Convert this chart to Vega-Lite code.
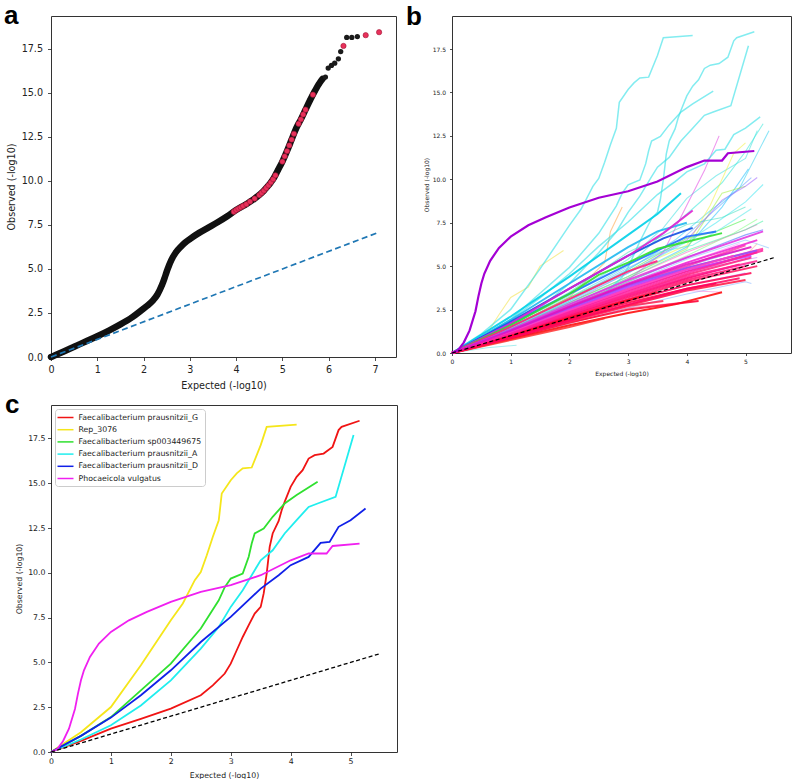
{
  "$schema": "https://vega.github.io/schema/vega-lite/v6.json",
  "padding": {"left": 3, "top": 2, "right": 4, "bottom": 0},
  "background": "white",
  "config": {
    "font": "DejaVu Sans",
    "view": {"stroke": "#333", "strokeWidth": 1},
    "axis": {"grid": false, "domain": false, "tickColor": "#222", "tickSize": 3.5, "tickWidth": 0.8, "labelColor": "#222", "titleColor": "#222", "titleFontWeight": "normal", "labelFont": "DejaVu Sans", "titleFont": "DejaVu Sans", "labelFlush": false, "labelOverlap": false, "labelBound": false},
    "title": {"font": "Liberation Sans", "fontSize": 26, "fontWeight": "bold", "anchor": "start", "frame": "group", "offset": 0, "baseline": "alphabetic", "color": "#000"}
  },
  "datasets": {
    "a_curve": [
      {"x":0,"y":0},{"x":0.1,"y":0.11},{"x":0.25,"y":0.28},{"x":0.5,"y":0.58},{"x":0.75,"y":0.88},{"x":1.0,"y":1.18},{"x":1.25,"y":1.5},{"x":1.5,"y":1.85},{"x":1.75,"y":2.25},{"x":2.0,"y":2.75},{"x":2.1,"y":2.95},{"x":2.2,"y":3.2},{"x":2.3,"y":3.55},{"x":2.4,"y":4.1},{"x":2.45,"y":4.45},{"x":2.5,"y":4.85},{"x":2.55,"y":5.2},{"x":2.6,"y":5.5},{"x":2.7,"y":5.95},{"x":2.8,"y":6.25},{"x":2.9,"y":6.5},{"x":3.0,"y":6.7},{"x":3.2,"y":7.05},{"x":3.4,"y":7.35},{"x":3.6,"y":7.65},{"x":3.8,"y":7.98},{"x":4.0,"y":8.35},{"x":4.2,"y":8.65},{"x":4.4,"y":9.0},{"x":4.6,"y":9.45},{"x":4.8,"y":10.1},{"x":4.9,"y":10.6},{"x":5.0,"y":11.1},{"x":5.1,"y":11.7},{"x":5.2,"y":12.35},{"x":5.3,"y":13.0},{"x":5.4,"y":13.5},{"x":5.5,"y":14.05},{"x":5.6,"y":14.6},{"x":5.7,"y":15.1},{"x":5.8,"y":15.55},{"x":5.87,"y":15.8}
    ],
    "a_top": [
      {"x":5.93,"y":15.9},{"x":5.99,"y":16.41},{"x":6.06,"y":16.56},{"x":6.13,"y":16.69},{"x":6.21,"y":16.94},{"x":6.26,"y":17.35},{"x":6.39,"y":18.15},{"x":6.5,"y":18.15},{"x":6.62,"y":18.2}
    ],
    "a_red": [
      {"x":3.95,"y":8.25},{"x":4.0,"y":8.35},{"x":4.05,"y":8.43},{"x":4.1,"y":8.5},{"x":4.15,"y":8.58},{"x":4.22,"y":8.68},{"x":4.3,"y":8.83},{"x":4.4,"y":9.0},{"x":4.5,"y":9.2},{"x":4.55,"y":9.32},{"x":4.6,"y":9.45},{"x":4.65,"y":9.6},{"x":4.7,"y":9.75},{"x":4.75,"y":9.92},{"x":4.8,"y":10.1},{"x":4.85,"y":10.32},{"x":5.0,"y":11.1},{"x":5.05,"y":11.4},{"x":5.1,"y":11.7},{"x":5.15,"y":12.02},{"x":5.2,"y":12.35},{"x":5.25,"y":12.68},{"x":5.35,"y":13.25},{"x":5.4,"y":13.5},{"x":5.45,"y":13.78},{"x":5.5,"y":14.05},{"x":5.66,"y":14.9},{"x":6.32,"y":17.67},{"x":6.8,"y":18.28},{"x":7.09,"y":18.45}
    ],
    "diag_a": [{"x":0,"y":0},{"x":7.1,"y":7.1}],
    "diag_bc": [{"x":0,"y":0},{"x":5.5,"y":5.5}],
    "cl": [
      {"sp":"Faecalibacterium prausnitzii_G","x":0,"y":0},{"sp":"Faecalibacterium prausnitzii_G","x":0.5,"y":0.62},{"sp":"Faecalibacterium prausnitzii_G","x":1,"y":1.3},{"sp":"Faecalibacterium prausnitzii_G","x":1.5,"y":1.85},{"sp":"Faecalibacterium prausnitzii_G","x":2,"y":2.42},{"sp":"Faecalibacterium prausnitzii_G","x":2.5,"y":3.17},{"sp":"Faecalibacterium prausnitzii_G","x":2.7,"y":3.72},{"sp":"Faecalibacterium prausnitzii_G","x":2.9,"y":4.38},{"sp":"Faecalibacterium prausnitzii_G","x":3.0,"y":4.93},{"sp":"Faecalibacterium prausnitzii_G","x":3.1,"y":5.68},{"sp":"Faecalibacterium prausnitzii_G","x":3.2,"y":6.42},{"sp":"Faecalibacterium prausnitzii_G","x":3.3,"y":7.08},{"sp":"Faecalibacterium prausnitzii_G","x":3.4,"y":7.73},{"sp":"Faecalibacterium prausnitzii_G","x":3.5,"y":8.1},{"sp":"Faecalibacterium prausnitzii_G","x":3.55,"y":8.85},{"sp":"Faecalibacterium prausnitzii_G","x":3.6,"y":9.96},{"sp":"Faecalibacterium prausnitzii_G","x":3.65,"y":11.45},{"sp":"Faecalibacterium prausnitzii_G","x":3.7,"y":12.2},{"sp":"Faecalibacterium prausnitzii_G","x":3.8,"y":12.9},{"sp":"Faecalibacterium prausnitzii_G","x":3.85,"y":13.5},{"sp":"Faecalibacterium prausnitzii_G","x":3.9,"y":13.96},{"sp":"Faecalibacterium prausnitzii_G","x":4.0,"y":14.8},{"sp":"Faecalibacterium prausnitzii_G","x":4.1,"y":15.36},{"sp":"Faecalibacterium prausnitzii_G","x":4.2,"y":15.73},{"sp":"Faecalibacterium prausnitzii_G","x":4.3,"y":16.38},{"sp":"Faecalibacterium prausnitzii_G","x":4.4,"y":16.57},{"sp":"Faecalibacterium prausnitzii_G","x":4.55,"y":16.66},{"sp":"Faecalibacterium prausnitzii_G","x":4.7,"y":17.03},{"sp":"Faecalibacterium prausnitzii_G","x":4.8,"y":17.97},{"sp":"Faecalibacterium prausnitzii_G","x":4.85,"y":18.15},{"sp":"Faecalibacterium prausnitzii_G","x":5.15,"y":18.49},
      {"sp":"Rep_3076","x":0,"y":0},{"sp":"Rep_3076","x":0.5,"y":1.1},{"sp":"Rep_3076","x":1,"y":2.51},{"sp":"Rep_3076","x":1.5,"y":4.84},{"sp":"Rep_3076","x":2,"y":7.35},{"sp":"Rep_3076","x":2.2,"y":8.29},{"sp":"Rep_3076","x":2.4,"y":9.59},{"sp":"Rep_3076","x":2.5,"y":10.05},{"sp":"Rep_3076","x":2.6,"y":10.98},{"sp":"Rep_3076","x":2.7,"y":12.0},{"sp":"Rep_3076","x":2.8,"y":12.94},{"sp":"Rep_3076","x":2.85,"y":14.43},{"sp":"Rep_3076","x":3.0,"y":15.17},{"sp":"Rep_3076","x":3.1,"y":15.55},{"sp":"Rep_3076","x":3.2,"y":15.83},{"sp":"Rep_3076","x":3.35,"y":15.88},{"sp":"Rep_3076","x":3.5,"y":17.13},{"sp":"Rep_3076","x":3.6,"y":18.15},{"sp":"Rep_3076","x":4.1,"y":18.28},
      {"sp":"Faecalibacterium sp003449675","x":0,"y":0},{"sp":"Faecalibacterium sp003449675","x":0.5,"y":0.9},{"sp":"Faecalibacterium sp003449675","x":1,"y":1.95},{"sp":"Faecalibacterium sp003449675","x":1.5,"y":3.44},{"sp":"Faecalibacterium sp003449675","x":2,"y":4.93},{"sp":"Faecalibacterium sp003449675","x":2.5,"y":6.89},{"sp":"Faecalibacterium sp003449675","x":2.8,"y":8.47},{"sp":"Faecalibacterium sp003449675","x":2.9,"y":9.2},{"sp":"Faecalibacterium sp003449675","x":3.0,"y":9.68},{"sp":"Faecalibacterium sp003449675","x":3.2,"y":9.96},{"sp":"Faecalibacterium sp003449675","x":3.3,"y":10.9},{"sp":"Faecalibacterium sp003449675","x":3.35,"y":11.64},{"sp":"Faecalibacterium sp003449675","x":3.4,"y":12.2},{"sp":"Faecalibacterium sp003449675","x":3.55,"y":12.47},{"sp":"Faecalibacterium sp003449675","x":3.7,"y":13.13},{"sp":"Faecalibacterium sp003449675","x":3.9,"y":13.87},{"sp":"Faecalibacterium sp003449675","x":4.1,"y":14.34},{"sp":"Faecalibacterium sp003449675","x":4.45,"y":15.08},
      {"sp":"Faecalibacterium prausnitzii_A","x":0,"y":0},{"sp":"Faecalibacterium prausnitzii_A","x":0.5,"y":0.7},{"sp":"Faecalibacterium prausnitzii_A","x":1,"y":1.49},{"sp":"Faecalibacterium prausnitzii_A","x":1.5,"y":2.6},{"sp":"Faecalibacterium prausnitzii_A","x":2,"y":4.0},{"sp":"Faecalibacterium prausnitzii_A","x":2.5,"y":5.77},{"sp":"Faecalibacterium prausnitzii_A","x":2.8,"y":6.98},{"sp":"Faecalibacterium prausnitzii_A","x":3.0,"y":8.1},{"sp":"Faecalibacterium prausnitzii_A","x":3.2,"y":9.03},{"sp":"Faecalibacterium prausnitzii_A","x":3.4,"y":10.15},{"sp":"Faecalibacterium prausnitzii_A","x":3.5,"y":10.7},{"sp":"Faecalibacterium prausnitzii_A","x":3.7,"y":11.26},{"sp":"Faecalibacterium prausnitzii_A","x":3.9,"y":12.2},{"sp":"Faecalibacterium prausnitzii_A","x":4.1,"y":12.94},{"sp":"Faecalibacterium prausnitzii_A","x":4.3,"y":13.68},{"sp":"Faecalibacterium prausnitzii_A","x":4.45,"y":13.87},{"sp":"Faecalibacterium prausnitzii_A","x":4.75,"y":14.24},{"sp":"Faecalibacterium prausnitzii_A","x":5.05,"y":17.69},
      {"sp":"Faecalibacterium prausnitzii_D","x":0,"y":0},{"sp":"Faecalibacterium prausnitzii_D","x":0.5,"y":0.9},{"sp":"Faecalibacterium prausnitzii_D","x":1,"y":1.92},{"sp":"Faecalibacterium prausnitzii_D","x":1.5,"y":3.17},{"sp":"Faecalibacterium prausnitzii_D","x":2,"y":4.56},{"sp":"Faecalibacterium prausnitzii_D","x":2.5,"y":6.14},{"sp":"Faecalibacterium prausnitzii_D","x":3.0,"y":7.54},{"sp":"Faecalibacterium prausnitzii_D","x":3.5,"y":9.12},{"sp":"Faecalibacterium prausnitzii_D","x":3.8,"y":9.87},{"sp":"Faecalibacterium prausnitzii_D","x":4.0,"y":10.43},{"sp":"Faecalibacterium prausnitzii_D","x":4.3,"y":10.89},{"sp":"Faecalibacterium prausnitzii_D","x":4.5,"y":11.67},{"sp":"Faecalibacterium prausnitzii_D","x":4.65,"y":11.73},{"sp":"Faecalibacterium prausnitzii_D","x":4.8,"y":12.57},{"sp":"Faecalibacterium prausnitzii_D","x":5.0,"y":12.94},{"sp":"Faecalibacterium prausnitzii_D","x":5.25,"y":13.59},
      {"sp":"Phocaeicola vulgatus","x":0,"y":0},{"sp":"Phocaeicola vulgatus","x":0.1,"y":0.15},{"sp":"Phocaeicola vulgatus","x":0.2,"y":0.6},{"sp":"Phocaeicola vulgatus","x":0.3,"y":1.3},{"sp":"Phocaeicola vulgatus","x":0.4,"y":2.4},{"sp":"Phocaeicola vulgatus","x":0.45,"y":3.26},{"sp":"Phocaeicola vulgatus","x":0.5,"y":4.0},{"sp":"Phocaeicola vulgatus","x":0.55,"y":4.56},{"sp":"Phocaeicola vulgatus","x":0.65,"y":5.31},{"sp":"Phocaeicola vulgatus","x":0.8,"y":6.05},{"sp":"Phocaeicola vulgatus","x":1.0,"y":6.7},{"sp":"Phocaeicola vulgatus","x":1.3,"y":7.35},{"sp":"Phocaeicola vulgatus","x":1.6,"y":7.82},{"sp":"Phocaeicola vulgatus","x":2.0,"y":8.38},{"sp":"Phocaeicola vulgatus","x":2.5,"y":8.94},{"sp":"Phocaeicola vulgatus","x":3.0,"y":9.31},{"sp":"Phocaeicola vulgatus","x":3.5,"y":9.87},{"sp":"Phocaeicola vulgatus","x":4.0,"y":10.7},{"sp":"Phocaeicola vulgatus","x":4.3,"y":11.08},{"sp":"Phocaeicola vulgatus","x":4.6,"y":11.08},{"sp":"Phocaeicola vulgatus","x":4.7,"y":11.5},{"sp":"Phocaeicola vulgatus","x":5.15,"y":11.63}
    ],
    "bthin": [
      {"id":"t1","x":0,"y":0},{"id":"t1","x":1,"y":1.6},{"id":"t1","x":2,"y":3.3},{"id":"t1","x":3,"y":5.4},{"id":"t1","x":3.6,"y":7.2},{"id":"t1","x":4,"y":8.9},{"id":"t1","x":4.5,"y":10.2},{"id":"t1","x":5.0,"y":11.2},{"id":"t1","x":5.2,"y":12.8},
      {"id":"t2","x":0,"y":0},{"id":"t2","x":1,"y":1.5},{"id":"t2","x":2,"y":3.2},{"id":"t2","x":3,"y":5.0},{"id":"t2","x":3.5,"y":6.6},{"id":"t2","x":4,"y":8.0},{"id":"t2","x":4.6,"y":9.8},{"id":"t2","x":5.0,"y":11.6},{"id":"t2","x":5.3,"y":13.2},
      {"id":"t3","x":0,"y":0},{"id":"t3","x":1,"y":1.4},{"id":"t3","x":2,"y":3.0},{"id":"t3","x":3,"y":4.8},{"id":"t3","x":3.8,"y":6.5},{"id":"t3","x":4.4,"y":8.2},{"id":"t3","x":4.9,"y":9.5},{"id":"t3","x":5.4,"y":12.8},
      {"id":"t4","x":0,"y":0},{"id":"t4","x":1,"y":1.5},{"id":"t4","x":2,"y":3.1},{"id":"t4","x":3,"y":4.9},{"id":"t4","x":3.8,"y":6.2},{"id":"t4","x":4.5,"y":8.3},{"id":"t4","x":5.1,"y":10.1},
      {"id":"t5","x":0,"y":0},{"id":"t5","x":1,"y":1.4},{"id":"t5","x":2,"y":2.9},{"id":"t5","x":3,"y":4.4},{"id":"t5","x":4,"y":6.1},{"id":"t5","x":4.6,"y":8.4},{"id":"t5","x":5.05,"y":10.6},
      {"id":"t6","x":0,"y":0},{"id":"t6","x":1,"y":1.5},{"id":"t6","x":2,"y":3.2},{"id":"t6","x":3,"y":4.7},{"id":"t6","x":4,"y":6.6},{"id":"t6","x":4.5,"y":7.0},{"id":"t6","x":5.0,"y":7.7},
      {"id":"t7","x":0,"y":0},{"id":"t7","x":1,"y":1.4},{"id":"t7","x":2,"y":2.9},{"id":"t7","x":3,"y":4.4},{"id":"t7","x":4,"y":6.0},{"id":"t7","x":4.6,"y":9.2},{"id":"t7","x":5.0,"y":9.6},
      {"id":"t8","x":0,"y":0},{"id":"t8","x":0.5,"y":0.6},{"id":"t8","x":0.8,"y":2.2},{"id":"t8","x":1.0,"y":3.2},{"id":"t8","x":1.3,"y":3.8},{"id":"t8","x":1.5,"y":5.0},{"id":"t8","x":1.9,"y":5.9},
      {"id":"t9","x":0,"y":0},{"id":"t9","x":1,"y":1.5},{"id":"t9","x":2,"y":3.2},{"id":"t9","x":2.6,"y":5.2},{"id":"t9","x":2.7,"y":7.0},{"id":"t9","x":2.9,"y":8.4},
      {"id":"t10","x":0,"y":0},{"id":"t10","x":1,"y":1.5},{"id":"t10","x":2,"y":3.1},{"id":"t10","x":3,"y":4.7},{"id":"t10","x":4,"y":6.2},{"id":"t10","x":4.4,"y":8.5},{"id":"t10","x":4.8,"y":11.5},{"id":"t10","x":5.0,"y":12.1},
      {"id":"t11","x":0,"y":0},{"id":"t11","x":1,"y":1.3},{"id":"t11","x":2,"y":2.8},{"id":"t11","x":3,"y":4.2},{"id":"t11","x":3.6,"y":5.8},{"id":"t11","x":4.0,"y":8.5},{"id":"t11","x":4.3,"y":10.5},{"id":"t11","x":4.55,"y":12.5},
      {"id":"t12","x":0,"y":0},{"id":"t12","x":1,"y":1.4},{"id":"t12","x":2,"y":2.9},{"id":"t12","x":3,"y":4.6},{"id":"t12","x":4,"y":6.5},{"id":"t12","x":4.6,"y":8.8},{"id":"t12","x":5.0,"y":9.6},{"id":"t12","x":5.2,"y":10.1},
      {"id":"t13","x":0,"y":0},{"id":"t13","x":1,"y":1.3},{"id":"t13","x":2,"y":2.7},{"id":"t13","x":3,"y":4.3},{"id":"t13","x":4,"y":5.8},{"id":"t13","x":5,"y":7.1},{"id":"t13","x":5.2,"y":7.4},
      {"id":"t14","x":0,"y":0},{"id":"t14","x":1,"y":1.3},{"id":"t14","x":2,"y":2.7},{"id":"t14","x":3,"y":4.1},{"id":"t14","x":4,"y":5.5},{"id":"t14","x":5,"y":6.8},{"id":"t14","x":5.3,"y":7.1},
      {"id":"t15","x":0,"y":0},{"id":"t15","x":1,"y":1.45},{"id":"t15","x":2,"y":3.0},{"id":"t15","x":3,"y":4.6},{"id":"t15","x":4,"y":6.4},{"id":"t15","x":4.5,"y":7.5},{"id":"t15","x":5.0,"y":8.7},{"id":"t15","x":5.3,"y":9.7},
      {"id":"t16","x":0,"y":0},{"id":"t16","x":1,"y":1.35},{"id":"t16","x":2,"y":2.8},{"id":"t16","x":3,"y":4.3},{"id":"t16","x":4,"y":5.9},{"id":"t16","x":5,"y":7.1},{"id":"t16","x":5.3,"y":7.6},
      {"id":"t17","x":0,"y":0},{"id":"t17","x":1,"y":1.3},{"id":"t17","x":2,"y":2.6},{"id":"t17","x":3,"y":4.0},{"id":"t17","x":4,"y":5.4},{"id":"t17","x":5,"y":6.5},{"id":"t17","x":5.4,"y":6.05},
      {"id":"t18","x":0,"y":0},{"id":"t18","x":1,"y":1.25},{"id":"t18","x":2,"y":2.6},{"id":"t18","x":3,"y":3.9},{"id":"t18","x":4,"y":5.2},{"id":"t18","x":4.9,"y":6.3},
      {"id":"t19","x":0,"y":0},{"id":"t19","x":1,"y":1.15},{"id":"t19","x":2,"y":2.3},{"id":"t19","x":3,"y":3.4},{"id":"t19","x":4,"y":4.5},{"id":"t19","x":5,"y":5.6},{"id":"t19","x":5.2,"y":6.3},
      {"id":"t20","x":0,"y":0},{"id":"t20","x":1,"y":1.5},{"id":"t20","x":2,"y":3.1},{"id":"t20","x":3,"y":4.8},{"id":"t20","x":3.5,"y":5.8},{"id":"t20","x":4.1,"y":6.2},{"id":"t20","x":4.6,"y":7.2},{"id":"t20","x":5.1,"y":8.3},
      {"id":"t21","x":0,"y":0},{"id":"t21","x":1,"y":1.2},{"id":"t21","x":2,"y":2.5},{"id":"t21","x":3,"y":3.8},{"id":"t21","x":4,"y":5.0},{"id":"t21","x":5,"y":6.0},
      {"id":"t22","x":0,"y":0},{"id":"t22","x":1,"y":1.2},{"id":"t22","x":2,"y":2.4},{"id":"t22","x":3,"y":3.6},{"id":"t22","x":4,"y":4.7},{"id":"t22","x":5.2,"y":5.5},
      {"id":"t23","x":0,"y":0},{"id":"t23","x":1,"y":1.3},{"id":"t23","x":2,"y":2.7},{"id":"t23","x":3,"y":4.1},{"id":"t23","x":4,"y":5.6},{"id":"t23","x":4.8,"y":6.9},{"id":"t23","x":5.2,"y":7.7},
      {"id":"t24","x":0,"y":0},{"id":"t24","x":0.6,"y":0.3},{"id":"t24","x":1.1,"y":0.45},
      {"id":"t25","x":0,"y":0},{"id":"t25","x":1,"y":0.8},{"id":"t25","x":2,"y":1.7},{"id":"t25","x":3,"y":2.6},{"id":"t25","x":4,"y":3.4},{"id":"t25","x":5,"y":4.1},{"id":"t25","x":5.1,"y":4.0},
      {"id":"t26","x":0,"y":0},{"id":"t26","x":1,"y":0.9},{"id":"t26","x":2,"y":1.8},{"id":"t26","x":3,"y":2.7},{"id":"t26","x":4,"y":3.6},{"id":"t26","x":4.6,"y":3.5},
      {"id":"t27","x":0,"y":0},{"id":"t27","x":1,"y":0.85},{"id":"t27","x":2,"y":1.7},{"id":"t27","x":3,"y":2.6},{"id":"t27","x":4.2,"y":3.0},
      {"id":"t28","x":0,"y":0},{"id":"t28","x":1,"y":1.0},{"id":"t28","x":2,"y":2.0},{"id":"t28","x":3,"y":3.0},{"id":"t28","x":4,"y":3.9},{"id":"t28","x":5,"y":4.6},
      {"id":"t29","x":0,"y":0},{"id":"t29","x":1,"y":1.1},{"id":"t29","x":2,"y":2.2},{"id":"t29","x":3,"y":3.2},{"id":"t29","x":4,"y":4.3},{"id":"t29","x":5.1,"y":5.2},
      {"id":"t30","x":0,"y":0},{"id":"t30","x":1,"y":1.6},{"id":"t30","x":2,"y":3.5},{"id":"t30","x":3,"y":5.8},{"id":"t30","x":4,"y":7.4},{"id":"t30","x":4.6,"y":7.8},{"id":"t30","x":5.0,"y":8.4}
    ],
    "bthick": [
      {"id":"k1","x":0,"y":0},{"id":"k1","x":1,"y":2.1},{"id":"k1","x":2,"y":4.4},{"id":"k1","x":3,"y":6.8},{"id":"k1","x":3.5,"y":8.0},{"id":"k1","x":3.9,"y":9.2},
      {"id":"k2","x":0,"y":0},{"id":"k2","x":1,"y":1.9},{"id":"k2","x":2,"y":4.0},{"id":"k2","x":3,"y":6.1},{"id":"k2","x":3.5,"y":7.0},{"id":"k2","x":4.0,"y":7.5},
      {"id":"k3","x":0,"y":0},{"id":"k3","x":1,"y":1.8},{"id":"k3","x":2,"y":3.7},{"id":"k3","x":3,"y":5.6},{"id":"k3","x":3.6,"y":6.6},{"id":"k3","x":4.1,"y":7.2},
      {"id":"k4","x":0,"y":0},{"id":"k4","x":1,"y":1.7},{"id":"k4","x":2,"y":3.4},{"id":"k4","x":3,"y":5.1},{"id":"k4","x":4,"y":6.7},{"id":"k4","x":4.5,"y":7.0},
      {"id":"k5","x":0,"y":0},{"id":"k5","x":1,"y":1.7},{"id":"k5","x":2,"y":3.7},{"id":"k5","x":3,"y":5.6},{"id":"k5","x":3.6,"y":6.9},{"id":"k5","x":4.1,"y":8.2},
      {"id":"k6","x":0,"y":0},{"id":"k6","x":1,"y":1.6},{"id":"k6","x":2,"y":3.4},{"id":"k6","x":2.5,"y":4.5},{"id":"k6","x":3,"y":5.2},{"id":"k6","x":3.5,"y":6.0},{"id":"k6","x":4,"y":6.4},{"id":"k6","x":4.6,"y":6.9},
      {"id":"k7","x":0,"y":0},{"id":"k7","x":1,"y":1.5},{"id":"k7","x":2,"y":3.1},{"id":"k7","x":3,"y":4.7},{"id":"k7","x":3.5,"y":5.3}
    ],
    "bred": [
      {"id":"r1","x":0,"y":0},{"id":"r1","x":1,"y":0.8},{"id":"r1","x":2,"y":1.6},{"id":"r1","x":3,"y":2.3},{"id":"r1","x":3.8,"y":2.8},{"id":"r1","x":4.6,"y":3.5},
      {"id":"r2","x":0,"y":0},{"id":"r2","x":1,"y":0.85},{"id":"r2","x":2,"y":1.75},{"id":"r2","x":3,"y":2.5},{"id":"r2","x":4.2,"y":3.0},
      {"id":"r3","x":0,"y":0},{"id":"r3","x":1,"y":0.9},{"id":"r3","x":2,"y":1.9},{"id":"r3","x":3,"y":2.75},{"id":"r3","x":4,"y":3.6},{"id":"r3","x":5.0,"y":4.2},
      {"id":"r4","x":0,"y":0},{"id":"r4","x":1,"y":0.95},{"id":"r4","x":2,"y":2.0},{"id":"r4","x":3,"y":3.0},{"id":"r4","x":4,"y":3.9},{"id":"r4","x":5.1,"y":4.6},
      {"id":"r5","x":0,"y":0},{"id":"r5","x":1,"y":1.0},{"id":"r5","x":2,"y":2.1},{"id":"r5","x":3,"y":3.1},{"id":"r5","x":4,"y":4.1},{"id":"r5","x":5.2,"y":5.0},
      {"id":"r6","x":0,"y":0},{"id":"r6","x":1,"y":1.05},{"id":"r6","x":2,"y":2.2},{"id":"r6","x":3,"y":3.3},{"id":"r6","x":4,"y":4.3},{"id":"r6","x":4.9,"y":5.1},
      {"id":"r7","x":0,"y":0},{"id":"r7","x":1,"y":1.1},{"id":"r7","x":2,"y":2.3},{"id":"r7","x":3,"y":3.4},{"id":"r7","x":4,"y":4.5},{"id":"r7","x":5.1,"y":5.5},
      {"id":"r8","x":0,"y":0},{"id":"r8","x":1,"y":1.15},{"id":"r8","x":2,"y":2.4},{"id":"r8","x":3,"y":3.6},{"id":"r8","x":4,"y":4.7},{"id":"r8","x":5.2,"y":5.8},
      {"id":"r9","x":0,"y":0},{"id":"r9","x":1,"y":0.75},{"id":"r9","x":2,"y":1.5},{"id":"r9","x":2.6,"y":2.0},
      {"id":"r10","x":0,"y":0},{"id":"r10","x":1,"y":0.9},{"id":"r10","x":2,"y":1.8},{"id":"r10","x":3,"y":2.7},{"id":"r10","x":3.6,"y":3.0},
      {"id":"r11","x":0,"y":0},{"id":"r11","x":1,"y":1.2},{"id":"r11","x":2,"y":2.5},{"id":"r11","x":3,"y":3.7},{"id":"r11","x":4,"y":4.9},{"id":"r11","x":5.3,"y":6.0},
      {"id":"r12","x":0,"y":0},{"id":"r12","x":1,"y":1.25},{"id":"r12","x":2,"y":2.6},{"id":"r12","x":3,"y":3.9},{"id":"r12","x":4,"y":5.0},{"id":"r12","x":5.0,"y":6.2},
      {"id":"r13","x":0,"y":0},{"id":"r13","x":1,"y":1.3},{"id":"r13","x":2,"y":2.7},{"id":"r13","x":3,"y":4.0},{"id":"r13","x":4,"y":5.2},{"id":"r13","x":5.2,"y":6.5},
      {"id":"r14","x":0,"y":0},{"id":"r14","x":1,"y":1.35},{"id":"r14","x":2,"y":2.8},{"id":"r14","x":3,"y":4.2},{"id":"r14","x":4,"y":5.5},{"id":"r14","x":5.3,"y":7.0},
      {"id":"r15","x":0,"y":0},{"id":"r15","x":1,"y":1.2},{"id":"r15","x":2,"y":2.5},{"id":"r15","x":3,"y":3.8},{"id":"r15","x":4,"y":4.8},{"id":"r15","x":5.1,"y":5.6},
      {"id":"r16","x":0,"y":0},{"id":"r16","x":1,"y":1.3},{"id":"r16","x":2,"y":2.6},{"id":"r16","x":3,"y":3.9},{"id":"r16","x":4,"y":4.9},{"id":"r16","x":5.2,"y":5.9},
      {"id":"r17","x":0,"y":0},{"id":"r17","x":1,"y":0.95},{"id":"r17","x":2,"y":1.95},{"id":"r17","x":3,"y":2.9},{"id":"r17","x":4,"y":3.7},{"id":"r17","x":4.5,"y":4.0},
      {"id":"r18","x":0,"y":0},{"id":"r18","x":1,"y":1.05},{"id":"r18","x":2,"y":2.15},{"id":"r18","x":3,"y":3.2},{"id":"r18","x":4,"y":4.2},{"id":"r18","x":5,"y":5.0},
      {"id":"r19","x":0,"y":0},{"id":"r19","x":1,"y":1.1},{"id":"r19","x":2,"y":2.25},{"id":"r19","x":3,"y":3.35},{"id":"r19","x":4,"y":4.4},{"id":"r19","x":5.2,"y":5.3},
      {"id":"r20","x":0,"y":0},{"id":"r20","x":1,"y":0.98},{"id":"r20","x":2,"y":2.05},{"id":"r20","x":3,"y":3.05},{"id":"r20","x":3.5,"y":3.5},
      {"id":"r21","x":0,"y":0},{"id":"r21","x":1,"y":1.2},{"id":"r21","x":2,"y":2.45},{"id":"r21","x":3,"y":3.65},{"id":"r21","x":4,"y":4.8},{"id":"r21","x":4.8,"y":5.6},
      {"id":"r22","x":0,"y":0},{"id":"r22","x":1,"y":1.12},{"id":"r22","x":2,"y":2.35},{"id":"r22","x":3,"y":3.5},{"id":"r22","x":4,"y":4.6},{"id":"r22","x":5.3,"y":5.9},
      {"id":"r23","x":0,"y":0},{"id":"r23","x":1,"y":0.88},{"id":"r23","x":2,"y":1.85},{"id":"r23","x":3,"y":2.8},{"id":"r23","x":4,"y":3.7},{"id":"r23","x":4.9,"y":4.3},
      {"id":"r24","x":0,"y":0},{"id":"r24","x":1,"y":1.28},{"id":"r24","x":2,"y":2.65},{"id":"r24","x":3,"y":3.95},{"id":"r24","x":4,"y":5.1},{"id":"r24","x":5.1,"y":6.1}
    ]
  },
  "bounds": "flush",
  "columns": 2,
  "spacing": {"row": 48, "column": 55},
  "resolve": {"scale": {"x": "independent", "y": "independent", "color": "independent"}},
  "concat": [
    {
      "width": 345,
      "height": 341,
      "title": {"text": "a", "dx": -47, "dy": 17},
      "encoding": {
        "x": {"field": "x", "type": "quantitative", "scale": {"domain": [0, 7.455], "nice": false, "zero": false},
              "axis": {"title": "Expected (-log10)", "values": [0,1,2,3,4,5,6,7], "format": "d", "labelFontSize": 9.6, "titleFontSize": 9.6, "labelPadding": 4, "titlePadding": 6}},
        "y": {"field": "y", "type": "quantitative", "scale": {"domain": [0, 19.37], "nice": false, "zero": false},
              "axis": {"title": "Observed (-log10)", "values": [0,2.5,5,7.5,10,12.5,15,17.5], "format": ".1f", "labelFontSize": 9.6, "titleFontSize": 9.6, "labelPadding": 5, "titlePadding": 5}}
      },
      "layer": [
        {"data": {"name": "a_curve"}, "mark": {"type": "line", "color": "#111", "strokeWidth": 6.5, "strokeCap": "round", "strokeJoin": "round", "interpolate": "monotone"}},
        {"data": {"name": "a_curve"}, "mark": {"type": "circle", "color": "#111", "size": 28, "opacity": 1}},
        {"data": {"name": "a_top"}, "mark": {"type": "circle", "color": "#1a1a1a", "size": 28, "opacity": 1}},
        {"data": {"name": "a_red"}, "mark": {"type": "circle", "color": "#e8315b", "size": 28, "opacity": 1, "stroke": "#a01838", "strokeWidth": 0.6}},
        {"data": {"name": "diag_a"}, "mark": {"type": "line", "color": "#1f77b4", "strokeWidth": 1.7, "strokeDash": [6, 3.5]}}
      ]
    },
    {
      "width": 339,
      "height": 337,
      "title": {"text": "b", "dx": -46, "dy": 18},
      "encoding": {
        "x": {"field": "x", "type": "quantitative", "scale": {"domain": [0, 5.775], "nice": false, "zero": false},
              "axis": {"title": "Expected (-log10)", "values": [0,1,2,3,4,5], "format": "d", "labelFontSize": 6, "titleFontSize": 6, "labelPadding": 3, "titlePadding": 6, "tickSize": 2.5}},
        "y": {"field": "y", "type": "quantitative", "scale": {"domain": [0, 19.4], "nice": false, "zero": false},
              "axis": {"title": "Observed (-log10)", "values": [0,2.5,5,7.5,10,12.5,15,17.5], "format": ".1f", "labelFontSize": 6, "titleFontSize": 6, "labelPadding": 4, "titlePadding": 3, "tickSize": 2.5}}
      },
      "layer": [
        {"data": {"name": "bthin"}, "mark": {"type": "line", "strokeWidth": 1.1, "opacity": 0.55},
         "encoding": {"color": {"field": "id", "type": "nominal", "legend": null,
           "scale": {"domain": ["t1","t2","t3","t4","t5","t6","t7","t8","t9","t10","t11","t12","t13","t14","t15","t16","t17","t18","t19","t20","t21","t22","t23","t24","t25","t26","t27","t28","t29","t30"],
                     "range": ["#40e0e0","#30e8d8","#30d0f0","#60a0ff","#20c0ff","#40f040","#a0f040","#f0e040","#ffa040","#f0f040","#e040e0","#a060ff","#ff60c0","#4060ff","#40e8f0","#40f0a0","#80c0ff","#ff80ff","#ffa0a0","#50e8e8","#6080ff","#c080ff","#80ff80","#60e0e0","#80b0ff","#ff70d0","#ff5090","#b060ff","#e060ff","#40e0c0"]}}}},
        {"data": {"name": "cl"}, "transform": [{"filter": "datum.sp != 'Phocaeicola vulgatus'"}],
         "mark": {"type": "line", "strokeWidth": 1.5, "opacity": 0.6, "color": "#30e0e6"},
         "encoding": {"detail": {"field": "sp", "type": "nominal"}}},
        {"data": {"name": "bthick"}, "mark": {"type": "line", "strokeWidth": 2, "opacity": 0.9},
         "encoding": {"color": {"field": "id", "type": "nominal", "legend": null,
           "scale": {"domain": ["k1","k2","k3","k4","k5","k6","k7"], "range": ["#00d0e8","#20b8f0","#1050e0","#2070ff","#e020d0","#30e030","#ff2080"]}}}},
        {"data": {"name": "bred"}, "mark": {"type": "line", "strokeWidth": 2, "opacity": 0.85},
         "encoding": {"color": {"field": "id", "type": "nominal", "legend": null,
           "scale": {"domain": ["r1","r2","r3","r4","r5","r6","r7","r8","r9","r10","r11","r12","r13","r14","r15","r16","r17","r18","r19","r20","r21","r22","r23","r24"],
                     "range": ["#ff0000","#ff0030","#ff1040","#ff0050","#ff1060","#ff0070","#ff2080","#ff1090","#ff3030","#ff2050","#ff30a0","#ff40b0","#f020d0","#e030e0","#c040ff","#9050ff","#ff0040","#ff1070","#ff2090","#ff0020","#ff40c0","#ff20a0","#ff0060","#e010c0"]}}}},
        {"data": {"name": "cl"}, "transform": [{"filter": "datum.sp == 'Phocaeicola vulgatus'"}],
         "mark": {"type": "line", "strokeWidth": 2.2, "color": "#a400d4"}},
        {"data": {"name": "diag_bc"}, "mark": {"type": "line", "color": "#000", "strokeWidth": 1.2, "strokeDash": [4, 2.5]}}
      ],
      "resolve": {"scale": {"color": "independent"}}
    },
    {
      "width": 346,
      "height": 347,
      "title": {"text": "c", "dx": -46, "dy": 17},
      "encoding": {
        "x": {"field": "x", "type": "quantitative", "scale": {"domain": [0, 5.775], "nice": false, "zero": false},
              "axis": {"title": "Expected (-log10)", "values": [0,1,2,3,4,5], "format": "d", "labelFontSize": 7.8, "titleFontSize": 7.8, "labelPadding": 2, "titlePadding": 6}},
        "y": {"field": "y", "type": "quantitative", "scale": {"domain": [0, 19.37], "nice": false, "zero": false},
              "axis": {"title": "Observed (-log10)", "values": [0,2.5,5,7.5,10,12.5,15,17.5], "format": ".1f", "labelFontSize": 7.8, "titleFontSize": 7.8, "labelPadding": 2.5, "titlePadding": 4}}
      },
      "layer": [
        {"data": {"name": "cl"}, "mark": {"type": "line", "strokeWidth": 1.8},
         "encoding": {"color": {"field": "sp", "type": "nominal",
           "scale": {"domain": ["Faecalibacterium prausnitzii_G","Rep_3076","Faecalibacterium sp003449675","Faecalibacterium prausnitzii_A","Faecalibacterium prausnitzii_D","Phocaeicola vulgatus"],
                     "range": ["#f01414","#f5e61a","#2fe02f","#20eeee","#1020e8","#f020f0"]},
           "legend": {"title": null, "orient": "top-left", "offset": 4, "padding": 3.5, "strokeColor": "#ccc", "fillColor": "white", "cornerRadius": 3,
                      "symbolType": "M-2,0H2", "symbolSize": 64, "symbolStrokeWidth": 1.5, "symbolOffset": 2,
                      "labelFontSize": 7.8, "labelFont": "DejaVu Sans", "labelColor": "#222", "rowPadding": 3.2, "labelOffset": 8}}}},
        {"data": {"name": "diag_bc"}, "mark": {"type": "line", "color": "#000", "strokeWidth": 1.3, "strokeDash": [4, 2.5]}}
      ]
    }
  ]
}
